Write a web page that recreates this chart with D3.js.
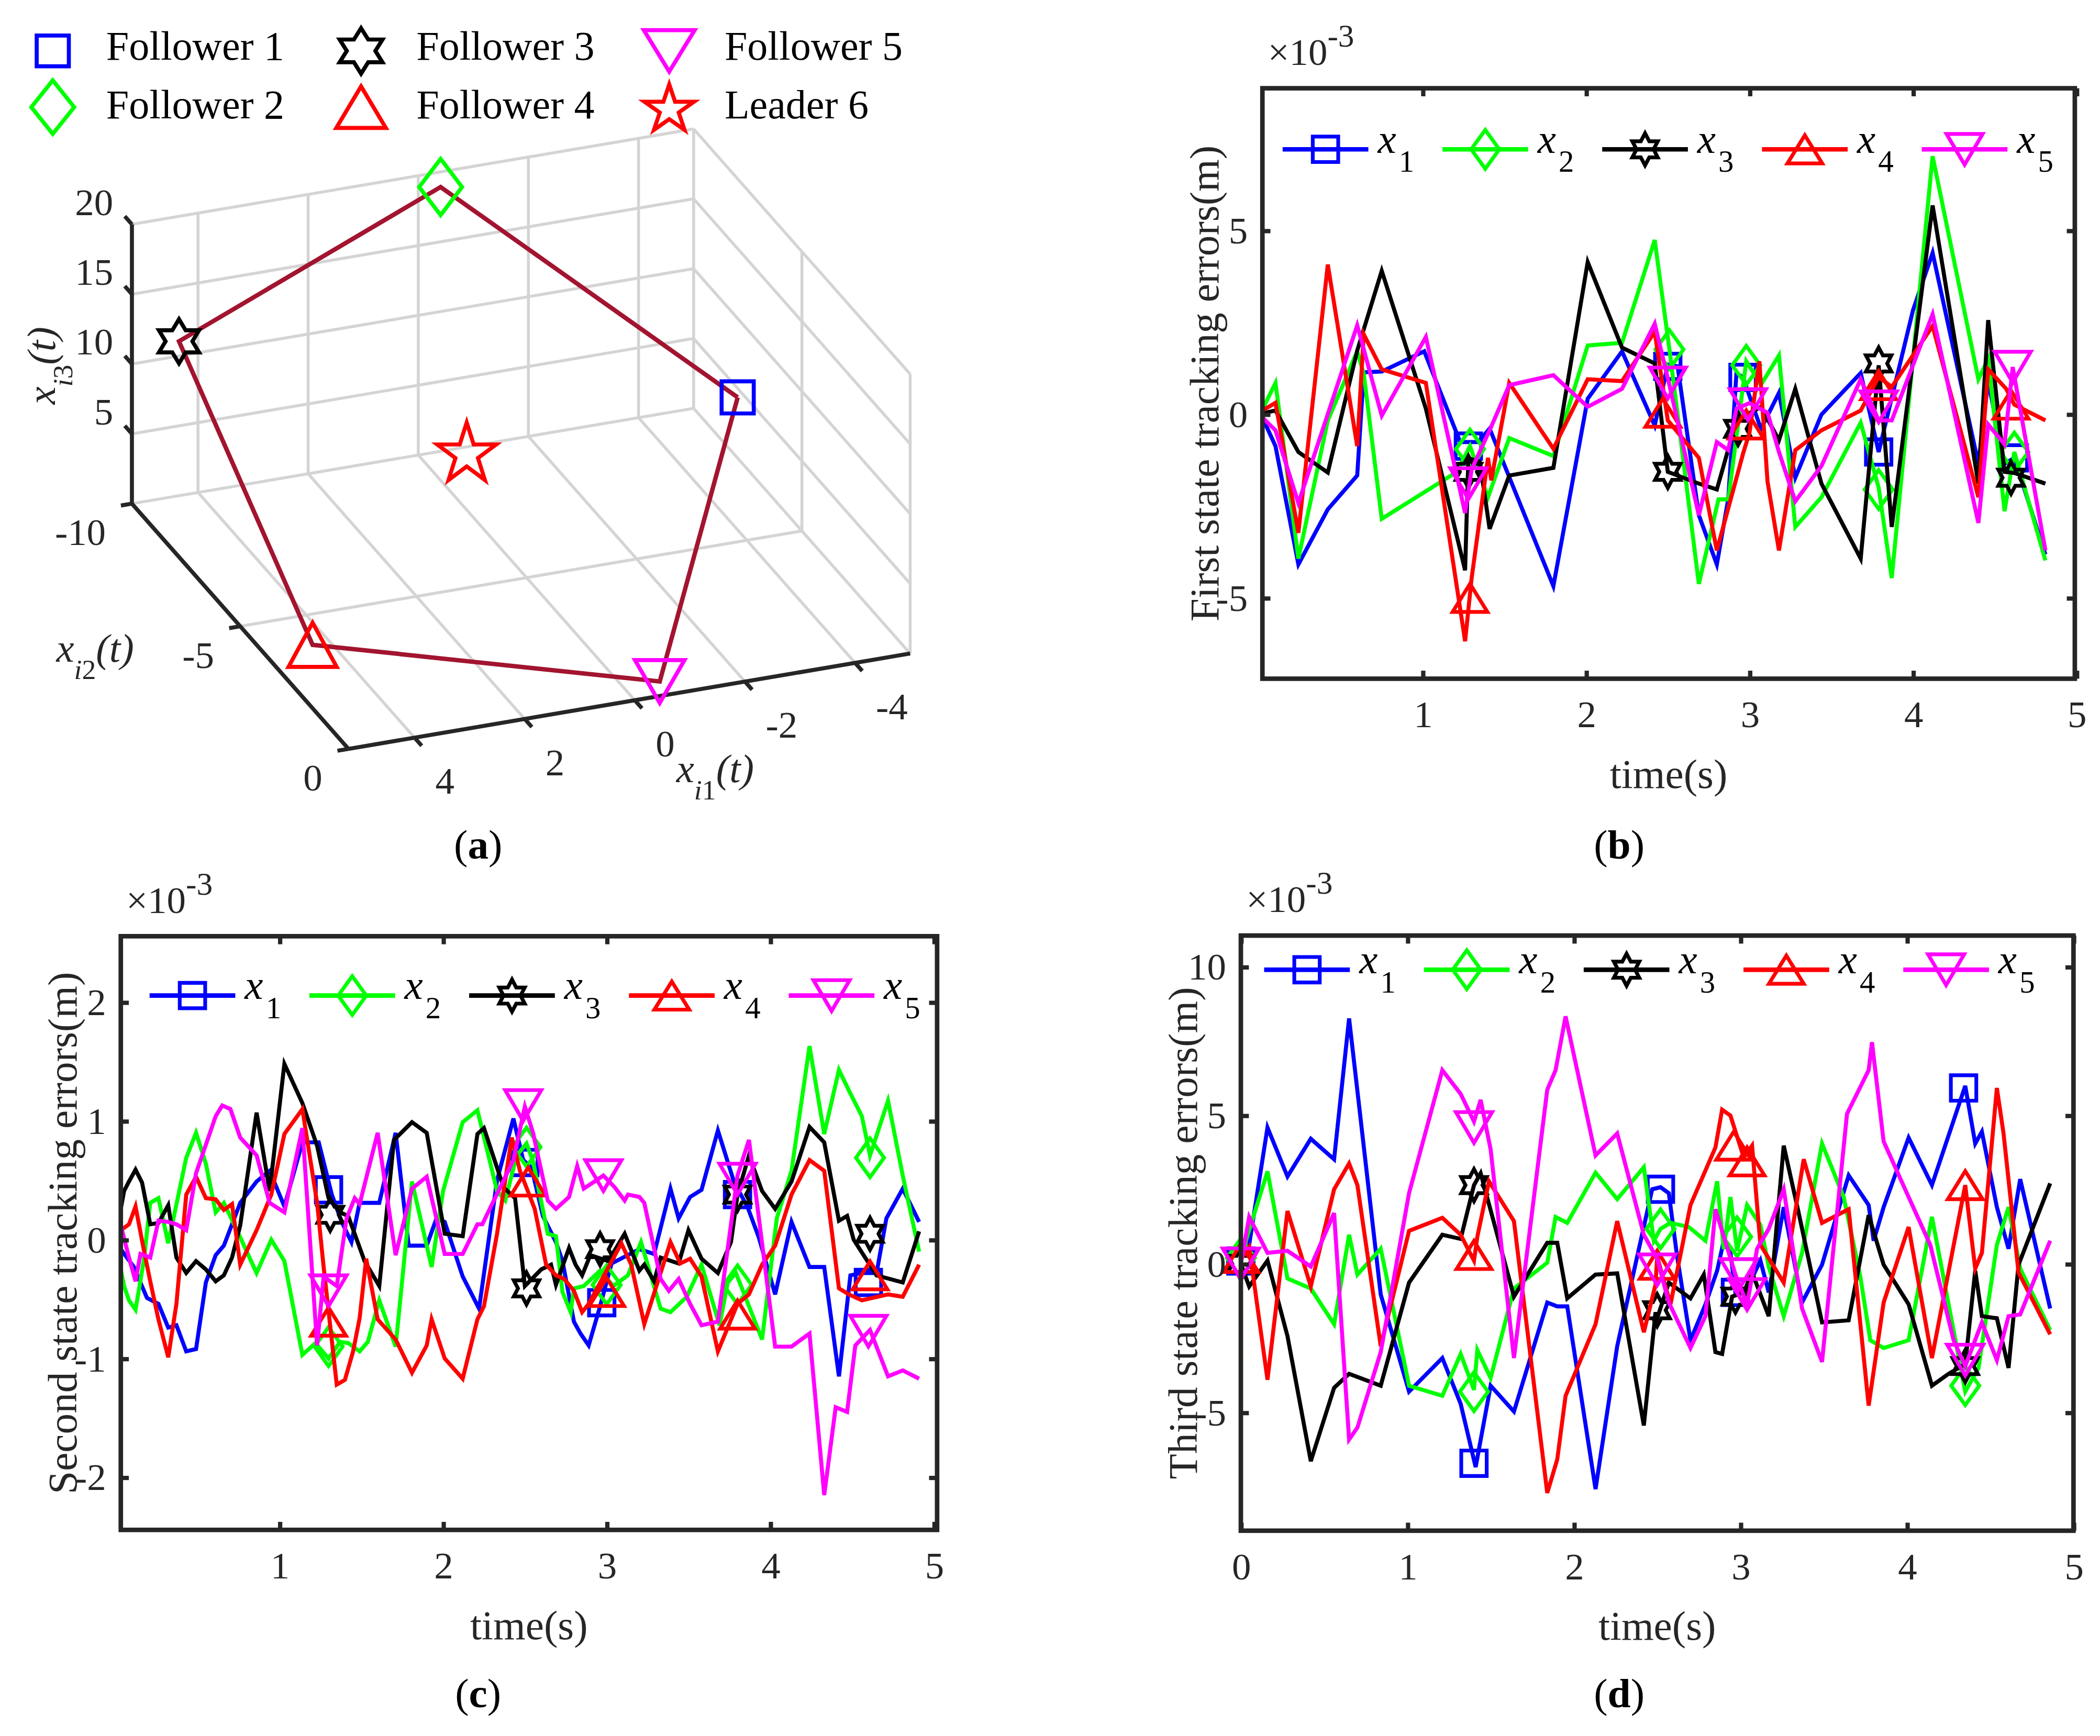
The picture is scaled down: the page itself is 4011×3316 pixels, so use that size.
<!DOCTYPE html>
<html>
<head>
<meta charset="utf-8">
<title>Formation tracking</title>
<script src="https://cdn.jsdelivr.net/npm/d3@7"></script>
<style>
  body { margin: 0; background: #fff; }
</style>
</head>
<body>
<script>
// ---------- panel (a): formation in 3-D ----------
var followerNames = ["Follower 1", "Follower 2", "Follower 3", "Follower 4", "Follower 5"];
var leaderName = "Leader 6";
var followerX1 = [-4.29, -0.39, 4.53, 4.90, -0.46];
var followerX2 = [-6.16, -9.96, -9.53, -2.42, -0.02];
var followerX3 = [8, 19, 12, 3, 1];
var leaderPos = [1.13, -4.89, 10];
var ticksX1 = [4, 2, 0, -2, -4];
var ticksX2 = [-10, -5, 0];
var ticksX3 = [5, 10, 15, 20];

// ---------- panel (b): first state errors (x1e-3) ----------
var bX1 = [[0.02,-0.09],[0.10,-0.87],[0.24,-4.09],[0.42,-2.59],[0.60,-1.67],[0.64,1.14],[0.75,1.16],[1.01,1.71],[1.23,-0.76],[1.34,-0.76],[1.41,-0.39],[1.80,-4.68],[2.01,0.42],[2.22,1.71],[2.42,-0.31],[2.50,1.35],[2.56,1.30],[2.69,-2.75],[2.80,-4.09],[2.87,-2.30],[2.92,1.12],[2.96,1.00],[3.07,-0.40],[3.18,0.58],[3.28,-1.73],[3.44,-0.01],[3.68,1.12],[3.79,-1.03],[4.00,2.83],[4.12,4.39],[4.40,-1.35],[4.46,0.90],[4.56,-1.35],[4.62,-1.19],[4.81,-3.82]];
var bX2 = [[0.02,0.13],[0.10,0.85],[0.24,-3.93],[0.42,-0.17],[0.60,1.71],[0.64,1.10],[0.75,-2.85],[1.21,-1.57],[1.29,-0.87],[1.40,-2.26],[1.53,-0.65],[1.80,-1.14],[2.01,1.87],[2.22,1.94],[2.42,4.74],[2.51,1.76],[2.69,-4.62],[2.81,-2.32],[2.87,-2.32],[2.98,1.44],[3.07,0.80],[3.18,1.60],[3.28,-3.07],[3.44,-2.26],[3.68,-0.23],[3.79,-2.00],[3.87,-4.46],[4.12,7.02],[4.40,0.95],[4.46,1.50],[4.56,-2.64],[4.62,-1.03],[4.81,-3.98]];
var bX3 = [[0.02,0.02],[0.10,0.10],[0.24,-1.03],[0.42,-1.59],[0.60,1.73],[0.75,3.90],[1.02,0.15],[1.26,-4.25],[1.28,-1.20],[1.35,-1.30],[1.41,-3.12],[1.53,-1.67],[1.80,-1.46],[2.01,4.14],[2.22,1.81],[2.42,1.38],[2.50,-1.57],[2.69,-1.89],[2.80,-2.05],[2.92,-0.17],[3.07,0.20],[3.18,-0.71],[3.28,0.69],[3.44,-1.89],[3.68,-3.93],[3.79,1.33],[3.87,-3.07],[4.12,5.68],[4.40,-1.89],[4.46,2.56],[4.56,-1.57],[4.62,-1.60],[4.81,-1.89]];
var bX4 = [[0.02,0.10],[0.10,0.31],[0.24,-3.23],[0.42,4.07],[0.60,-0.87],[0.64,2.17],[0.75,1.22],[1.02,0.85],[1.26,-6.18],[1.30,-4.46],[1.40,-1.19],[1.42,-1.80],[1.53,0.85],[1.80,-0.94],[2.01,0.95],[2.22,0.90],[2.42,2.24],[2.50,-0.17],[2.69,-1.19],[2.80,-3.71],[2.96,-1.08],[3.00,-0.50],[3.06,1.44],[3.11,-1.83],[3.18,-3.71],[3.28,-0.98],[3.44,-0.44],[3.68,0.10],[3.79,1.01],[3.87,0.74],[4.12,2.40],[4.40,-2.26],[4.46,1.22],[4.57,0.69],[4.62,0.26],[4.81,-0.17]];
var bX5 = [[0.02,-0.09],[0.10,-0.44],[0.24,-2.42],[0.60,2.42],[0.75,-0.04],[1.02,2.10],[1.26,-2.69],[1.30,-1.50],[1.41,-0.44],[1.53,0.79],[1.80,1.06],[2.01,0.20],[2.22,0.69],[2.42,2.46],[2.51,0.79],[2.69,-2.75],[2.80,-0.76],[2.87,-0.98],[2.92,0.15],[3.00,0.30],[3.11,0.04],[3.18,-1.03],[3.28,-2.37],[3.44,-1.41],[3.68,0.95],[3.79,-0.17],[3.87,-0.17],[4.12,2.72],[4.40,-2.96],[4.46,-0.28],[4.56,-0.82],[4.61,1.28],[4.81,-3.71]];
var bMk1 = [[1.28,-0.87],[2.50,1.30],[2.96,1.00],[3.79,-1.03],[4.62,-1.19]];
var bMk2 = [[1.29,-0.95],[2.51,1.76],[2.98,1.33],[3.79,-2.05],[4.62,-1.03]];
var bMk3 = [[1.28,-1.57],[2.50,-1.57],[2.93,-0.40],[3.79,1.38],[4.60,-1.73]];
var bMk4 = [[1.29,-5.00],[2.47,0.04],[2.98,-0.28],[3.79,0.79],[4.60,0.26]];
var bMk5 = [[1.28,-1.89],[2.50,0.85],[2.99,0.26],[3.79,0.20],[4.61,1.28]];
var bXTicks = [1, 2, 3, 4, 5];
var bYTicks = [-5, 0, 5];

// ---------- panel (c): second state errors (x1e-3) ----------
var cX1 = [[0.03,-0.08],[0.11,-0.23],[0.19,-0.49],[0.26,-0.54],[0.32,-0.74],[0.37,-0.72],[0.43,-0.94],[0.49,-0.92],[0.55,-0.36],[0.61,-0.13],[0.66,-0.05],[0.76,0.31],[0.86,0.49],[0.94,0.58],[1.03,0.28],[1.14,0.82],[1.24,0.82],[1.32,0.38],[1.38,0.15],[1.44,-0.02],[1.49,0.31],[1.61,0.31],[1.71,0.90],[1.79,-0.05],[1.90,-0.05],[1.96,0.18],[2.01,0.15],[2.12,-0.31],[2.22,-0.58],[2.33,0.50],[2.43,1.02],[2.49,0.67],[2.54,0.61],[2.61,0.20],[2.69,-0.02],[2.73,-0.18],[2.80,-0.69],[2.84,-0.79],[2.89,-0.89],[2.96,-0.56],[3.03,-0.20],[3.10,-0.15],[3.20,-0.08],[3.29,-0.12],[3.39,0.43],[3.44,0.18],[3.51,0.36],[3.58,0.42],[3.68,0.92],[3.78,0.48],[3.86,0.28],[3.93,0.02],[4.03,-0.46],[4.13,0.15],[4.24,-0.23],[4.33,-0.23],[4.42,-1.15],[4.49,-0.30],[4.56,-0.28],[4.65,-0.28],[4.71,0.18],[4.81,0.43],[4.91,0.15]];
var cX2 = [[0.03,-0.25],[0.05,-0.39],[0.08,-0.51],[0.12,-0.59],[0.17,-0.18],[0.21,0.31],[0.26,0.35],[0.32,-0.03],[0.43,0.69],[0.49,0.90],[0.55,0.64],[0.61,0.23],[0.66,0.31],[0.76,0.02],[0.86,-0.28],[0.95,0.00],[1.03,-0.18],[1.14,-0.97],[1.22,-0.87],[1.30,-1.00],[1.37,-0.86],[1.42,-0.87],[1.49,-0.94],[1.54,-0.86],[1.61,-0.51],[1.71,-0.90],[1.81,0.49],[1.93,-0.23],[2.00,0.41],[2.12,0.99],[2.21,1.09],[2.33,0.41],[2.38,0.33],[2.45,0.71],[2.51,0.81],[2.55,0.66],[2.64,0.05],[2.69,0.03],[2.73,-0.44],[2.78,-0.61],[2.80,-0.41],[2.86,-0.39],[2.96,-0.26],[3.04,-0.39],[3.13,-0.30],[3.21,-0.02],[3.33,-0.58],[3.39,-0.61],[3.49,-0.48],[3.58,-0.21],[3.69,-0.72],[3.74,-0.36],[3.79,-0.28],[3.95,-0.84],[4.04,0.18],[4.13,0.58],[4.24,1.63],[4.33,0.89],[4.42,1.43],[4.49,1.23],[4.56,1.04],[4.61,0.71],[4.72,1.17],[4.81,0.54],[4.91,-0.10]];
var cX3 = [[0.03,0.26],[0.05,0.41],[0.08,0.49],[0.12,0.59],[0.16,0.48],[0.21,0.13],[0.26,0.14],[0.32,0.29],[0.37,-0.15],[0.43,-0.28],[0.49,-0.18],[0.55,-0.25],[0.61,-0.35],[0.66,-0.30],[0.71,-0.15],[0.76,0.12],[0.86,1.07],[0.94,0.41],[1.03,1.48],[1.14,1.15],[1.23,0.79],[1.30,0.35],[1.37,0.23],[1.42,0.20],[1.52,-0.18],[1.61,-0.39],[1.70,0.84],[1.81,0.99],[1.90,0.90],[2.01,0.05],[2.12,0.03],[2.21,0.89],[2.25,0.94],[2.37,0.44],[2.44,0.35],[2.50,-0.39],[2.60,-0.25],[2.66,-0.21],[2.69,-0.38],[2.77,-0.07],[2.81,-0.21],[2.85,-0.30],[2.90,-0.13],[3.01,-0.18],[3.11,0.05],[3.20,-0.26],[3.23,-0.21],[3.29,-0.35],[3.33,-0.15],[3.44,-0.20],[3.50,0.08],[3.58,-0.16],[3.68,-0.28],[3.76,-0.02],[3.80,0.38],[3.87,0.71],[3.95,0.41],[4.03,0.26],[4.13,0.49],[4.24,0.95],[4.33,0.82],[4.42,0.16],[4.47,0.20],[4.51,0.00],[4.65,-0.30],[4.81,-0.36],[4.91,0.07]];
var cX4 = [[0.03,0.08],[0.08,0.13],[0.12,0.28],[0.17,-0.08],[0.21,-0.35],[0.26,-0.67],[0.32,-0.99],[0.37,-0.54],[0.43,0.38],[0.49,0.53],[0.55,0.35],[0.61,0.34],[0.66,0.25],[0.71,0.30],[0.76,-0.21],[0.86,0.08],[0.95,0.38],[1.03,0.89],[1.14,1.10],[1.23,0.31],[1.27,-0.23],[1.35,-1.22],[1.40,-1.18],[1.45,-0.94],[1.49,-0.66],[1.53,-0.16],[1.60,-0.67],[1.71,-0.84],[1.81,-1.12],[1.90,-0.89],[1.93,-0.67],[2.01,-1.00],[2.12,-1.17],[2.21,-0.67],[2.25,-0.56],[2.33,0.05],[2.42,0.86],[2.47,0.58],[2.56,0.26],[2.63,-0.21],[2.69,-0.30],[2.74,-0.33],[2.80,-0.43],[2.85,-0.61],[2.89,-0.54],[3.09,-0.03],[3.15,-0.21],[3.23,-0.71],[3.39,-0.02],[3.45,-0.20],[3.51,-0.16],[3.58,-0.31],[3.68,-0.94],[3.80,-0.54],[3.87,-0.46],[3.95,-0.21],[4.03,-0.05],[4.13,0.38],[4.24,0.67],[4.33,0.58],[4.42,-0.41],[4.48,-0.46],[4.56,-0.51],[4.72,-0.46],[4.81,-0.48],[4.91,-0.21]];
var cX5 = [[0.03,0.12],[0.08,-0.15],[0.12,-0.35],[0.15,-0.12],[0.21,-0.15],[0.26,0.16],[0.32,0.15],[0.37,0.13],[0.43,0.08],[0.49,0.56],[0.61,1.04],[0.65,1.13],[0.70,1.10],[0.76,0.86],[0.86,0.71],[0.94,0.31],[1.03,0.23],[1.14,0.94],[1.23,-0.89],[1.27,-0.31],[1.35,-0.39],[1.41,0.18],[1.46,0.35],[1.49,0.30],[1.60,0.90],[1.71,-0.13],[1.81,0.43],[1.90,0.53],[2.01,-0.12],[2.12,-0.12],[2.21,0.13],[2.24,0.13],[2.43,0.67],[2.50,1.12],[2.55,0.90],[2.64,0.33],[2.69,0.26],[2.77,0.36],[2.82,0.62],[2.86,0.43],[2.98,0.54],[3.05,0.44],[3.11,0.33],[3.13,0.38],[3.20,0.36],[3.23,0.31],[3.33,-0.33],[3.38,-0.43],[3.44,-0.33],[3.51,-0.54],[3.58,-0.72],[3.68,-0.69],[3.80,0.54],[3.87,0.84],[4.03,-0.90],[4.13,-0.90],[4.24,-0.79],[4.33,-2.15],[4.40,-1.41],[4.47,-1.45],[4.52,-0.89],[4.61,-0.76],[4.72,-1.15],[4.81,-1.10],[4.91,-1.17]];
var cMk1 = [[1.30,0.42],[2.50,0.65],[2.97,-0.53],[3.80,0.38],[4.60,-0.36]];
var cMk2 = [[1.30,-0.90],[2.51,0.78],[3.00,-0.38],[3.80,-0.38],[4.61,0.69]];
var cMk3 = [[1.31,0.21],[2.51,-0.41],[2.96,-0.08],[3.80,0.38],[4.61,0.05]];
var cMk4 = [[1.30,-0.69],[2.52,0.49],[3.00,-0.44],[3.80,-0.63],[4.61,-0.30]];
var cMk5 = [[1.30,-0.43],[2.49,1.13],[2.98,0.54],[3.80,0.51],[4.60,-0.77]];
var cXTicks = [1, 2, 3, 4, 5];
var cYTicks = [-2, -1, 0, 1, 2];

// ---------- panel (d): third state errors (x1e-3) ----------
var dX1 = [[0,0.24],[0.05,0.64],[0.16,4.59],[0.28,2.94],[0.42,4.21],[0.56,3.52],[0.65,8.26],[0.84,-1.03],[1.01,-4.30],[1.21,-3.17],[1.32,-4.71],[1.41,-6.84],[1.50,-4.10],[1.64,-4.97],[1.84,-1.30],[1.90,-1.43],[1.96,-1.43],[2.13,-7.58],[2.26,-2.77],[2.47,2.51],[2.52,2.58],[2.57,2.38],[2.62,0.24],[2.70,-2.57],[2.79,-1.36],[2.86,-0.23],[2.90,0.78],[2.94,0.37],[2.97,-0.96],[3.04,-0.83],[3.12,0.11],[3.17,-0.96],[3.26,1.91],[3.37,-1.30],[3.49,-0.03],[3.65,2.98],[3.77,1.98],[3.80,0.78],[3.86,1.91],[4.01,4.25],[4.15,2.65],[4.35,5.99],[4.41,4.05],[4.45,4.45],[4.54,1.91],[4.61,0.51],[4.68,2.85],[4.86,-1.50]];
var dX2 = [[0,0.24],[0.16,3.11],[0.28,-0.49],[0.42,-0.83],[0.56,-2.03],[0.65,0.98],[0.70,-0.36],[0.84,0.51],[1.01,-4.10],[1.21,-4.44],[1.32,-3.03],[1.40,-4.24],[1.42,-2.90],[1.50,-3.84],[1.64,-0.83],[1.84,0.04],[1.89,1.58],[1.96,1.38],[2.13,3.07],[2.26,2.18],[2.42,3.25],[2.48,0.78],[2.52,1.18],[2.58,1.38],[2.69,1.24],[2.79,0.78],[2.86,2.78],[2.90,0.50],[2.94,2.25],[2.98,0.44],[3.04,1.98],[3.12,1.31],[3.17,-0.09],[3.26,-1.76],[3.37,0.37],[3.49,4.05],[3.62,2.25],[3.72,-0.43],[3.78,-2.57],[3.86,-2.83],[4.01,-2.57],[4.15,1.58],[4.35,-4.30],[4.43,-3.50],[4.54,0.64],[4.61,1.91],[4.68,-0.16],[4.86,-2.23]];
var dX3 = [[0,0.00],[0.05,-0.76],[0.16,0.11],[0.28,-2.43],[0.42,-6.64],[0.56,-4.17],[0.65,-3.70],[0.84,-4.10],[1.01,-0.63],[1.21,0.98],[1.32,0.84],[1.40,2.65],[1.44,3.05],[1.64,-1.10],[1.84,0.71],[1.90,0.71],[1.96,-1.16],[2.13,-0.36],[2.26,-0.32],[2.42,-5.44],[2.49,-1.63],[2.50,-1.83],[2.57,-0.63],[2.70,-1.16],[2.78,-0.36],[2.85,-2.97],[2.89,-3.03],[2.95,-1.10],[3.02,-0.96],[3.07,-0.29],[3.17,-1.76],[3.26,3.98],[3.35,1.71],[3.49,-1.97],[3.65,-1.90],[3.77,1.64],[3.86,-0.03],[4.01,-1.36],[4.15,-4.10],[4.25,-3.70],[4.35,-3.37],[4.41,-0.23],[4.45,-1.76],[4.54,-1.83],[4.61,-3.50],[4.67,-0.03],[4.86,2.71]];
var dX4 = [[0,0.17],[0.05,0.57],[0.16,-3.90],[0.28,1.78],[0.42,-0.76],[0.56,2.51],[0.65,3.38],[0.70,2.65],[0.84,-2.77],[1.01,1.11],[1.21,1.55],[1.32,0.98],[1.40,0.11],[1.42,0.91],[1.49,2.78],[1.64,1.44],[1.84,-7.71],[1.90,-6.58],[1.95,-4.44],[2.13,-2.03],[2.26,1.44],[2.42,-2.30],[2.49,-0.70],[2.50,0.24],[2.58,-1.36],[2.70,1.98],[2.85,3.92],[2.89,5.19],[2.94,4.99],[3.02,3.58],[3.07,3.98],[3.12,0.64],[3.26,-0.63],[3.38,3.52],[3.49,1.38],[3.65,1.84],[3.77,-4.77],[3.86,-1.30],[4.01,1.24],[4.15,-3.17],[4.35,2.65],[4.41,-0.16],[4.45,0.37],[4.54,5.92],[4.58,4.39],[4.67,-0.29],[4.86,-2.37]];
var dX5 = [[0,0.00],[0.05,1.58],[0.16,0.37],[0.28,0.44],[0.42,-0.09],[0.56,1.71],[0.65,-5.91],[0.70,-5.51],[0.84,-2.97],[1.01,2.38],[1.21,6.52],[1.32,5.72],[1.40,4.79],[1.44,5.52],[1.50,3.85],[1.64,-3.17],[1.84,5.86],[1.89,6.52],[1.95,8.33],[2.13,3.65],[2.26,4.39],[2.42,0.98],[2.50,0.17],[2.57,-1.30],[2.70,-2.83],[2.79,-1.76],[2.85,1.84],[2.97,-0.36],[3.04,-1.36],[3.10,0.51],[3.17,1.18],[3.26,2.51],[3.37,-1.50],[3.49,-3.30],[3.64,5.05],[3.77,6.52],[3.79,7.46],[3.86,4.12],[4.01,2.25],[4.14,0.64],[4.28,-2.57],[4.35,-3.44],[4.45,-1.97],[4.54,-3.24],[4.61,-1.76],[4.68,-1.70],[4.86,0.78]];
var dMk1 = [[0,0.10],[1.40,-6.71],[2.52,2.51],[2.97,-0.96],[4.34,5.92]];
var dMk2 = [[0,0.20],[1.40,-4.30],[2.52,1.18],[2.98,0.91],[4.35,-4.10]];
var dMk3 = [[0,0.00],[1.40,2.65],[2.50,-1.56],[2.97,-1.10],[4.35,-3.44]];
var dMk4 = [[0,0.20],[1.40,0.30],[2.50,-0.03],[2.96,3.98],[3.04,3.45],[4.35,2.65]];
var dMk5 = [[0,0.00],[1.40,4.59],[2.50,-0.20],[2.99,-0.36],[3.04,-1.03],[4.35,-3.24]];
var dXTicks = [0, 1, 2, 3, 4, 5];
var dYTicks = [-5, 0, 5, 10];

var seriesSub = ["1", "2", "3", "4", "5"];

// ---------- styles ----------
var g_width = 1568, g_height = 1296.3;
var axisColor = "#262626";
var seriesColors = ["#0000ff", "#00ff00", "#000000", "#ff0000", "#ff00ff"];
var seriesMarkers = ["square", "diamond", "hexagram", "triangle", "triangleDown"];
var markerSize = { square: [19, 19], diamond: [21, 29], hexagram: [19, 24], triangle: [26, 21], triangleDown: [27, 23] };
var lineW = 3.0, markW = 2.8, axisW = 3.4;

var svg = d3.select("body").append("svg")
  .attr("width", 4011)
  .attr("height", 3316)
  .attr("viewBox", "0 0 " + g_width + " " + g_height)
  .style("font-family", "'Liberation Serif', 'DejaVu Serif', serif");

svg.append("rect").attr("width", g_width).attr("height", g_height).attr("fill", "#fff");

function unitShape(kind) {
  if (kind === "square") return [[-1, -1], [1, -1], [1, 1], [-1, 1]];
  if (kind === "diamond") return [[0, -1], [1, 0], [0, 1], [-1, 0]];
  if (kind === "triangle") return [[0, -1], [1, 1], [-1, 1]];
  if (kind === "triangleDown") return [[0, 1], [1, -1], [-1, -1]];
  var n = kind === "hexagram" ? 6 : 5;
  var ri = kind === "hexagram" ? 1 / Math.sqrt(3) : 0.382;
  return d3.range(2 * n).map(function (i) {
    var a = -Math.PI / 2 + i * Math.PI / n, r = i % 2 ? ri : 1;
    return [r * Math.cos(a), r * Math.sin(a)];
  });
}

function drawMarker(g, kind, cx, cy, w, h, color, sw) {
  var pts = unitShape(kind);
  var sx = d3.scaleLinear().domain(d3.extent(pts, function (p) { return p[0]; })).range([cx - w / 2, cx + w / 2]);
  var sy = d3.scaleLinear().domain(d3.extent(pts, function (p) { return p[1]; })).range([cy - h / 2, cy + h / 2]);
  g.append("path")
    .attr("d", d3.line().x(function (p) { return sx(p[0]); }).y(function (p) { return sy(p[1]); }).curve(d3.curveLinearClosed)(pts))
    .attr("fill", "none")
    .attr("stroke", color)
    .attr("stroke-width", sw);
}

// ---------- panel (a) ----------
function drawFormation() {
  var g = svg.append("g");
  var A = [98.5, 376.1], B = [260.2, 559.2], C = [679.6, 488.0], D = [98.5, 167.5];
  var k1 = d3.scaleLinear().domain([5.2, -5]).range([0, 1]);
  var k2 = d3.scaleLinear().domain([-10, 0]).range([0, 1]);
  var k3 = d3.scaleLinear().domain([0, 20]).range([0, 1]);
  function proj(x1, x2, x3) {
    var a = k1(x1), b = k2(x2), c = k3(x3);
    return [A[0] + a * (C[0] - B[0]) + b * (B[0] - A[0]) + c * (D[0] - A[0]),
            A[1] + a * (C[1] - B[1]) + b * (B[1] - A[1]) + c * (D[1] - A[1])];
  }
  function seg(p, q, color, w) {
    var a = proj(p[0], p[1], p[2]), b = proj(q[0], q[1], q[2]);
    g.append("line").attr("x1", a[0]).attr("y1", a[1]).attr("x2", b[0]).attr("y2", b[1])
      .attr("stroke", color).attr("stroke-width", w);
  }
  var grid = "#d4d4d4", gw = 2.2;
  var x1Lo = -5, x1Hi = 5.2;
  // back wall (x2 = -10)
  ticksX1.concat([x1Lo]).forEach(function (v) { seg([v, -10, 0], [v, -10, 20], grid, gw); });
  [0].concat(ticksX3).forEach(function (z) { seg([x1Hi, -10, z], [x1Lo, -10, z], grid, gw); });
  // floor (x3 = 0)
  ticksX1.forEach(function (v) { seg([v, -10, 0], [v, 0, 0], grid, gw); });
  seg([x1Hi, -5, 0], [x1Lo, -5, 0], grid, gw);
  seg([x1Lo, -10, 0], [x1Lo, 0, 0], grid, gw);
  // side wall (x1 = -5)
  ticksX3.forEach(function (z) { seg([x1Lo, -10, z], [x1Lo, 0, z], grid, gw); });
  [-5, 0].forEach(function (v) { seg([x1Lo, v, 0], [x1Lo, v, 20], grid, gw); });

  // axes
  seg([x1Hi, -10, 0], [x1Hi, -10, 20], axisColor, 3.0);
  seg([x1Hi, -10, 0], [x1Hi, 0, 0], axisColor, 3.0);
  seg([x1Hi, 0, 0], [x1Lo, 0, 0], axisColor, 3.0);

  var lab = g.append("g").attr("font-size", 28.5).attr("fill", axisColor);
  ticksX3.forEach(function (z) {
    seg([x1Hi, -10, z], [x1Hi, -10.33, z], axisColor, 3.0);
    var p = proj(x1Hi, -10, z);
    lab.append("text").attr("x", p[0] - 14).attr("y", p[1] - 7).attr("text-anchor", "end").text(z);
  });
  ticksX2.forEach(function (v) {
    seg([x1Hi, v, 0], [x1Hi + 0.2, v, 0], axisColor, 3.0);
    var p = proj(x1Hi, v, 0);
    lab.append("text").attr("x", p[0] - 19.5).attr("y", p[1] + 31).attr("text-anchor", "end").text(v);
  });
  ticksX1.forEach(function (v) {
    seg([v, 0, 0], [v, 0.33, 0], axisColor, 3.0);
    var p = proj(v, 0, 0);
    lab.append("text").attr("x", p[0] + 15.5).attr("y", p[1] + 42).attr("text-anchor", "start").text(v);
  });

  // axis labels
  var l1 = g.append("text").attr("x", 505).attr("y", 584).attr("font-size", 30).attr("fill", axisColor);
  l1.append("tspan").attr("font-style", "italic").text("x");
  l1.append("tspan").attr("font-size", 21).attr("dy", 13).attr("font-style", "italic").text("i");
  l1.append("tspan").attr("font-size", 21).text("1");
  l1.append("tspan").attr("dy", -13).attr("font-style", "italic").text("(t)");
  var l2 = g.append("text").attr("x", 42).attr("y", 494).attr("font-size", 30).attr("fill", axisColor);
  l2.append("tspan").attr("font-style", "italic").text("x");
  l2.append("tspan").attr("font-size", 21).attr("dy", 13).attr("font-style", "italic").text("i");
  l2.append("tspan").attr("font-size", 21).text("2");
  l2.append("tspan").attr("dy", -13).attr("font-style", "italic").text("(t)");
  var l3 = g.append("text").attr("transform", "translate(41,302) rotate(-90)").attr("font-size", 30).attr("fill", axisColor);
  l3.append("tspan").attr("font-style", "italic").text("x");
  l3.append("tspan").attr("font-size", 21).attr("dy", 13).attr("font-style", "italic").text("i");
  l3.append("tspan").attr("font-size", 21).text("3");
  l3.append("tspan").attr("dy", -13).attr("font-style", "italic").text("(t)");

  // formation polygon (followers 1..5 closed)
  var ring = d3.range(6).map(function (i) { var j = i % 5; return proj(followerX1[j], followerX2[j], followerX3[j]); });
  g.append("path").attr("d", d3.line()(ring)).attr("fill", "none").attr("stroke", "#a2142f").attr("stroke-width", 3.3);

  var sizes3d = [[24, 24], [32, 42], [30, 33], [36, 33], [37, 32]];
  for (var i = 0; i < 5; i++) {
    var p = proj(followerX1[i], followerX2[i], followerX3[i]);
    drawMarker(g, seriesMarkers[i], p[0], p[1], sizes3d[i][0], sizes3d[i][1], seriesColors[i], 3.0);
  }
  var lp = proj(leaderPos[0], leaderPos[1], leaderPos[2]);
  drawMarker(g, "pentagram", lp[0], lp[1], 44, 43, "#ff0000", 3.0);

  // legend
  var legCols = [[39.4, 79.3], [269.6, 310.9], [499.7, 541]];
  var legRows = [[38, 44.5], [80, 88.2]];
  var legItems = [
    { name: followerNames[0], kind: "square", color: seriesColors[0], size: [24, 23], c: 0, r: 0 },
    { name: followerNames[1], kind: "diamond", color: seriesColors[1], size: [32, 40], c: 0, r: 1 },
    { name: followerNames[2], kind: "hexagram", color: seriesColors[2], size: [32, 34], c: 1, r: 0 },
    { name: followerNames[3], kind: "triangle", color: seriesColors[3], size: [37, 31], c: 1, r: 1 },
    { name: followerNames[4], kind: "triangleDown", color: seriesColors[4], size: [38, 31], c: 2, r: 0 },
    { name: leaderName, kind: "pentagram", color: "#ff0000", size: [37, 34], c: 2, r: 1 }
  ];
  legItems.forEach(function (it) {
    drawMarker(g, it.kind, legCols[it.c][0], legRows[it.r][0], it.size[0], it.size[1], it.color, 3.0);
    g.append("text").attr("x", legCols[it.c][1]).attr("y", legRows[it.r][1])
      .attr("font-size", 30.5).attr("fill", "#000").text(it.name);
  });
}

// ---------- panels (b), (c), (d) ----------
function drawPanel(p) {
  var x = d3.scaleLinear().domain(p.xDomain).range([p.left, p.right]);
  var y = d3.scaleLinear().domain(p.yDomain).range([p.bottom, p.top]);
  var g = svg.append("g");
  var clipId = "clip-" + p.name;
  svg.append("clipPath").attr("id", clipId).append("rect")
    .attr("x", p.left).attr("y", p.top).attr("width", p.right - p.left).attr("height", p.bottom - p.top);

  var line = d3.line().x(function (d) { return x(d[0]); }).y(function (d) { return y(d[1]); });
  p.series.forEach(function (s, i) {
    g.append("path").datum(s).attr("d", line).attr("clip-path", "url(#" + clipId + ")")
      .attr("fill", "none").attr("stroke", seriesColors[i]).attr("stroke-width", lineW)
      .attr("stroke-linejoin", "miter");
    var k = seriesMarkers[i];
    p.marks[i].forEach(function (d) {
      drawMarker(g, k, x(d[0]), y(d[1]), markerSize[k][0], markerSize[k][1], seriesColors[i], markW);
    });
  });

  // axes with inward ticks on all sides
  var fmt = function (d) { return String(d); };
  var axes = [
    g.append("g").attr("transform", "translate(0," + p.bottom + ")")
      .call(d3.axisBottom(x).tickValues(p.xTicks).tickSize(-6).tickSizeOuter(0).tickPadding(16).tickFormat(fmt)),
    g.append("g").attr("transform", "translate(0," + p.top + ")")
      .call(d3.axisTop(x).tickValues(p.xTicks).tickSize(-6).tickSizeOuter(0).tickFormat("")),
    g.append("g").attr("transform", "translate(" + p.left + ",0)")
      .call(d3.axisLeft(y).tickValues(p.yTicks).tickSize(-6).tickSizeOuter(0).tickPadding(11).tickFormat(fmt)),
    g.append("g").attr("transform", "translate(" + p.right + ",0)")
      .call(d3.axisRight(y).tickValues(p.yTicks).tickSize(-6).tickSizeOuter(0).tickFormat(""))
  ];
  axes.forEach(function (a) {
    a.attr("font-size", 28.5).attr("font-family", null);
    a.select(".domain").remove();
    a.selectAll(".tick line").attr("stroke", axisColor).attr("stroke-width", 3.2);
    a.selectAll(".tick text").attr("fill", axisColor);
  });
  g.append("rect").attr("x", p.left).attr("y", p.top).attr("width", p.right - p.left).attr("height", p.bottom - p.top)
    .attr("fill", "none").attr("stroke", axisColor).attr("stroke-width", axisW);

  // exponent
  var ex = g.append("text").attr("x", p.left + 4).attr("y", p.top - 17.5).attr("font-size", 28.5).attr("fill", axisColor);
  ex.append("tspan").text("\u00d710");
  ex.append("tspan").attr("font-size", 24).attr("dy", -13.7).text("-3");

  // labels
  g.append("text").attr("x", (p.left + p.right) / 2).attr("y", p.bottom + 81.4).attr("text-anchor", "middle")
    .attr("font-size", 31).attr("fill", axisColor).text("time(s)");
  g.append("text").attr("transform", "translate(" + (p.left - 33) + "," + ((p.top + p.bottom) / 2) + ") rotate(-90)")
    .attr("text-anchor", "middle").attr("font-size", 31).attr("fill", axisColor).text(p.yLabel);

  // legend
  for (var i = 0; i < 5; i++) {
    var x0 = p.legendX + i * 119.3, yl = p.legendY;
    g.append("line").attr("x1", x0).attr("x2", x0 + 64).attr("y1", yl).attr("y2", yl)
      .attr("stroke", seriesColors[i]).attr("stroke-width", 3.4);
    var k = seriesMarkers[i];
    drawMarker(g, k, x0 + 32, yl, markerSize[k][0], markerSize[k][1], seriesColors[i], markW);
    var t = g.append("text").attr("x", x0 + 71).attr("y", yl + 2.5).attr("font-size", 31).attr("fill", "#000");
    t.append("tspan").attr("font-style", "italic").text("x");
    t.append("tspan").attr("dx", 2).attr("dy", 14.4).attr("font-size", 23).text(seriesSub[i]);
  }
}

function panelLabel(x, y, letter) {
  var t = svg.append("text").attr("x", x).attr("y", y).attr("text-anchor", "middle")
    .attr("font-size", 31).attr("fill", "#000");
  t.append("tspan").text("(");
  t.append("tspan").attr("font-weight", "bold").text(letter);
  t.append("tspan").text(")");
}

drawFormation();

drawPanel({
  name: "b", left: 942.6, right: 1549.2, top: 65.9, bottom: 506.8,
  xDomain: [0.02, 4.99], yDomain: [-7.2, 8.87],
  xTicks: bXTicks, yTicks: bYTicks,
  series: [bX1, bX2, bX3, bX4, bX5], marks: [bMk1, bMk2, bMk3, bMk4, bMk5],
  yLabel: "First state tracking errors(m)", legendX: 957.7, legendY: 111.5
});
drawPanel({
  name: "c", left: 90.2, right: 699.7, top: 699.1, bottom: 1142.4,
  xDomain: [0.03, 5.02], yDomain: [-2.443, 2.555],
  xTicks: cXTicks, yTicks: cYTicks,
  series: [cX1, cX2, cX3, cX4, cX5], marks: [cMk1, cMk2, cMk3, cMk4, cMk5],
  yLabel: "Second state tracking errors(m)", legendX: 111.7, legendY: 743.4
});
drawPanel({
  name: "d", left: 926.5, right: 1548.2, top: 698.6, bottom: 1143,
  xDomain: [0, 5], yDomain: [-8.98, 11.05],
  xTicks: dXTicks, yTicks: dYTicks,
  series: [dX1, dX2, dX3, dX4, dX5], marks: [dMk1, dMk2, dMk3, dMk4, dMk5],
  yLabel: "Third state tracking errors(m)", legendX: 943.9, legendY: 724.1
});

panelLabel(357, 641, "a");
panelLabel(1209, 641, "b");
panelLabel(357, 1275, "c");
panelLabel(1209, 1275, "d");
</script>
</body>
</html>
